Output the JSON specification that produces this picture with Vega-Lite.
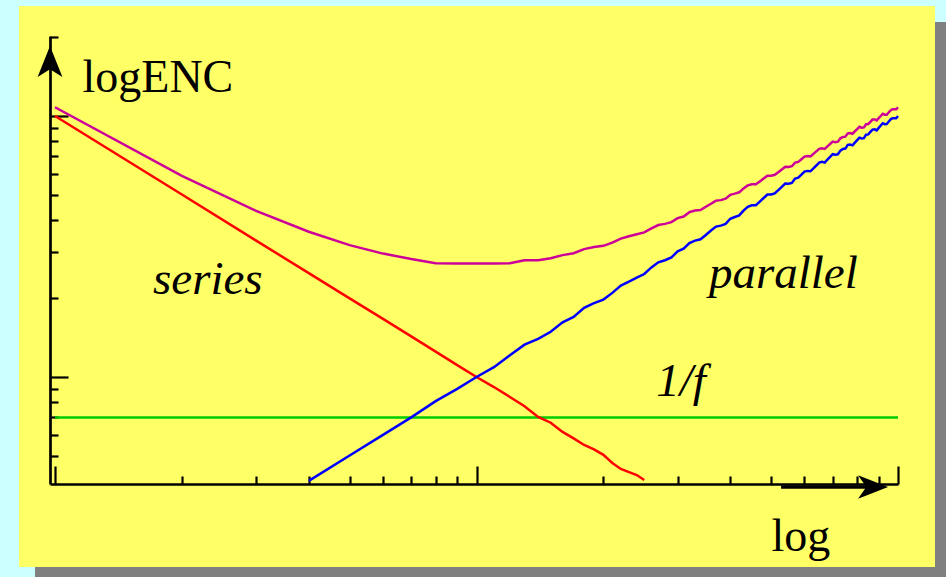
{
  "$schema": "https://vega.github.io/schema/vega-lite/v6.json",
  "width": 916,
  "height": 561,
  "autosize": {"type": "none"},
  "padding": {"left": 19, "top": 6, "right": 11, "bottom": 10},
  "background": "#ccffff",
  "config": {
    "view": {"fill": "#ffff66", "stroke": null},
    "axis": {"grid": false, "labels": false, "domainColor": "black", "tickColor": "black"}
  },
  "datasets": {
    "flat": [{"f": 1, "enc": 0.7}, {"f": 100, "enc": 0.7}],
    "series": [
      {"f": 1, "enc": 10}, {"f": 2, "enc": 5}, {"f": 3, "enc": 3.33}, {"f": 4, "enc": 2.5},
      {"f": 5, "enc": 2}, {"f": 6, "enc": 1.67}, {"f": 7, "enc": 1.43}, {"f": 8, "enc": 1.25},
      {"f": 9, "enc": 1.11}, {"f": 10, "enc": 1.0}, {"f": 11, "enc": 0.915}, {"f": 12, "enc": 0.838},
      {"f": 13, "enc": 0.772}, {"f": 14, "enc": 0.703}, {"f": 15, "enc": 0.668}, {"f": 16, "enc": 0.616},
      {"f": 17, "enc": 0.582}, {"f": 18, "enc": 0.549}, {"f": 19, "enc": 0.528}, {"f": 20, "enc": 0.503},
      {"f": 21, "enc": 0.468}, {"f": 22, "enc": 0.444}, {"f": 23, "enc": 0.432}, {"f": 24, "enc": 0.421},
      {"f": 25, "enc": 0.403}
    ],
    "parallel": [
      {"f": 4, "enc": 0.4}, {"f": 5, "enc": 0.5}, {"f": 6, "enc": 0.6}, {"f": 7, "enc": 0.7},
      {"f": 8, "enc": 0.808}, {"f": 9, "enc": 0.9}, {"f": 10, "enc": 1.0}, {"f": 11, "enc": 1.09},
      {"f": 12, "enc": 1.21}, {"f": 13, "enc": 1.33}, {"f": 14, "enc": 1.4}, {"f": 15, "enc": 1.49},
      {"f": 16, "enc": 1.62}, {"f": 17, "enc": 1.7}, {"f": 18, "enc": 1.84}, {"f": 19, "enc": 1.92},
      {"f": 20, "enc": 1.98}, {"f": 21, "enc": 2.1}, {"f": 22, "enc": 2.24}, {"f": 23, "enc": 2.32},
      {"f": 24, "enc": 2.4}, {"f": 25, "enc": 2.48}, {"f": 26, "enc": 2.63}, {"f": 27, "enc": 2.75},
      {"f": 28, "enc": 2.8}, {"f": 29, "enc": 2.87}, {"f": 30, "enc": 3.03}, {"f": 31, "enc": 3.1},
      {"f": 32, "enc": 3.26}, {"f": 33, "enc": 3.33}, {"f": 34, "enc": 3.37}, {"f": 35, "enc": 3.5},
      {"f": 36, "enc": 3.64}, {"f": 37, "enc": 3.77}, {"f": 38, "enc": 3.8}, {"f": 39, "enc": 3.86},
      {"f": 40, "enc": 4.04}, {"f": 41, "enc": 4.1}, {"f": 42, "enc": 4.16}, {"f": 43, "enc": 4.34},
      {"f": 44, "enc": 4.49}, {"f": 45, "enc": 4.55}, {"f": 46, "enc": 4.55}, {"f": 47, "enc": 4.7},
      {"f": 48, "enc": 4.85}, {"f": 49, "enc": 5.0}, {"f": 50, "enc": 5.0}, {"f": 51, "enc": 5.05},
      {"f": 52, "enc": 5.2}, {"f": 53, "enc": 5.35}, {"f": 54, "enc": 5.51}, {"f": 55, "enc": 5.5},
      {"f": 56, "enc": 5.54}, {"f": 57, "enc": 5.76}, {"f": 58, "enc": 5.8}, {"f": 59, "enc": 5.96},
      {"f": 60, "enc": 6.12}, {"f": 61, "enc": 6.16}, {"f": 62, "enc": 6.14}, {"f": 63, "enc": 6.3},
      {"f": 64, "enc": 6.46}, {"f": 65, "enc": 6.63}, {"f": 66, "enc": 6.67}, {"f": 67, "enc": 6.63},
      {"f": 68, "enc": 6.8}, {"f": 69, "enc": 6.97}, {"f": 70, "enc": 7.14}, {"f": 71, "enc": 7.1},
      {"f": 72, "enc": 7.13}, {"f": 73, "enc": 7.37}, {"f": 74, "enc": 7.47}, {"f": 75, "enc": 7.5},
      {"f": 76, "enc": 7.75}, {"f": 77, "enc": 7.78}, {"f": 78, "enc": 7.72}, {"f": 79, "enc": 7.9},
      {"f": 80, "enc": 8.08}, {"f": 81, "enc": 8.26}, {"f": 82, "enc": 8.2}, {"f": 83, "enc": 8.22},
      {"f": 84, "enc": 8.48}, {"f": 85, "enc": 8.5}, {"f": 86, "enc": 8.69}, {"f": 87, "enc": 8.87},
      {"f": 88, "enc": 8.89}, {"f": 89, "enc": 8.81}, {"f": 90, "enc": 9.0}, {"f": 91, "enc": 9.19},
      {"f": 92, "enc": 9.38}, {"f": 93, "enc": 9.3}, {"f": 94, "enc": 9.31}, {"f": 95, "enc": 9.5},
      {"f": 96, "enc": 9.7}, {"f": 97, "enc": 9.8}, {"f": 98, "enc": 9.8}, {"f": 99, "enc": 9.8},
      {"f": 100, "enc": 10.0}
    ],
    "total": [
      {"f": 1, "enc": 10.8}, {"f": 2, "enc": 5.9}, {"f": 3, "enc": 4.33}, {"f": 4, "enc": 3.6},
      {"f": 5, "enc": 3.2}, {"f": 6, "enc": 2.97}, {"f": 7, "enc": 2.83}, {"f": 8, "enc": 2.73},
      {"f": 9, "enc": 2.72}, {"f": 10, "enc": 2.72}, {"f": 11, "enc": 2.72}, {"f": 12, "enc": 2.73},
      {"f": 13, "enc": 2.8}, {"f": 14, "enc": 2.8}, {"f": 15, "enc": 2.85}, {"f": 16, "enc": 2.93},
      {"f": 17, "enc": 2.98}, {"f": 18, "enc": 3.09}, {"f": 19, "enc": 3.15}, {"f": 20, "enc": 3.18},
      {"f": 21, "enc": 3.27}, {"f": 22, "enc": 3.39}, {"f": 23, "enc": 3.46}, {"f": 24, "enc": 3.52},
      {"f": 25, "enc": 3.58}, {"f": 26, "enc": 3.71}, {"f": 27, "enc": 3.82}, {"f": 28, "enc": 3.86},
      {"f": 29, "enc": 3.92}, {"f": 30, "enc": 4.06}, {"f": 31, "enc": 4.12}, {"f": 32, "enc": 4.28},
      {"f": 33, "enc": 4.34}, {"f": 34, "enc": 4.36}, {"f": 35, "enc": 4.49}, {"f": 36, "enc": 4.61},
      {"f": 37, "enc": 4.74}, {"f": 38, "enc": 4.76}, {"f": 39, "enc": 4.82}, {"f": 40, "enc": 4.99},
      {"f": 41, "enc": 5.04}, {"f": 42, "enc": 5.1}, {"f": 43, "enc": 5.28}, {"f": 44, "enc": 5.42},
      {"f": 45, "enc": 5.47}, {"f": 46, "enc": 5.47}, {"f": 47, "enc": 5.61}, {"f": 48, "enc": 5.76},
      {"f": 49, "enc": 5.9}, {"f": 50, "enc": 5.9}, {"f": 51, "enc": 5.95}, {"f": 52, "enc": 6.09},
      {"f": 53, "enc": 6.24}, {"f": 54, "enc": 6.39}, {"f": 55, "enc": 6.38}, {"f": 56, "enc": 6.42},
      {"f": 57, "enc": 6.63}, {"f": 58, "enc": 6.67}, {"f": 59, "enc": 6.83}, {"f": 60, "enc": 6.99},
      {"f": 61, "enc": 7.03}, {"f": 62, "enc": 7.0}, {"f": 63, "enc": 7.16}, {"f": 64, "enc": 7.32},
      {"f": 65, "enc": 7.48}, {"f": 66, "enc": 7.52}, {"f": 67, "enc": 7.48}, {"f": 68, "enc": 7.65},
      {"f": 69, "enc": 7.81}, {"f": 70, "enc": 7.98}, {"f": 71, "enc": 7.94}, {"f": 72, "enc": 7.97},
      {"f": 73, "enc": 8.21}, {"f": 74, "enc": 8.31}, {"f": 75, "enc": 8.33}, {"f": 76, "enc": 8.58},
      {"f": 77, "enc": 8.61}, {"f": 78, "enc": 8.55}, {"f": 79, "enc": 8.73}, {"f": 80, "enc": 8.91},
      {"f": 81, "enc": 9.09}, {"f": 82, "enc": 9.02}, {"f": 83, "enc": 9.04}, {"f": 84, "enc": 9.3},
      {"f": 85, "enc": 9.32}, {"f": 86, "enc": 9.5}, {"f": 87, "enc": 9.69}, {"f": 88, "enc": 9.7},
      {"f": 89, "enc": 9.62}, {"f": 90, "enc": 9.81}, {"f": 91, "enc": 10.0}, {"f": 92, "enc": 10.19},
      {"f": 93, "enc": 10.11}, {"f": 94, "enc": 10.11}, {"f": 95, "enc": 10.31}, {"f": 96, "enc": 10.5},
      {"f": 97, "enc": 10.6}, {"f": 98, "enc": 10.6}, {"f": 99, "enc": 10.6}, {"f": 100, "enc": 10.8}
    ],
    "labels": [
      {"label": "series", "f": 1.708, "enc": 2.08},
      {"label": "parallel", "f": 35.6, "enc": 2.2},
      {"label": "1/f", "f": 26.7, "enc": 0.846}
    ],
    "xArrow": [{"f": 87.26, "f2": 52.8, "enc": 0.379}],
    "yArrow": [{"f": 0.973, "enc": 16.18}]
  },
  "layer": [
    {
      "description": "drop shadow, right strip",
      "data": {"values": [{}]},
      "mark": {"type": "rect", "color": "#808080"},
      "encoding": {"x": {"value": 916}, "x2": {"value": 940}, "y": {"value": 16}, "y2": {"value": 580}}
    },
    {
      "description": "drop shadow, bottom strip",
      "data": {"values": [{}]},
      "mark": {"type": "rect", "color": "#808080"},
      "encoding": {"x": {"value": 16}, "x2": {"value": 940}, "y": {"value": 561}, "y2": {"value": 580}}
    },
    {
      "data": {"name": "flat"},
      "mark": {"type": "line", "color": "#00cc00", "strokeWidth": 2.5},
      "encoding": {
        "x": {
          "field": "f", "type": "quantitative",
          "scale": {"type": "log", "domain": [0.973, 100], "range": [31, 879], "nice": false},
          "axis": {
            "orient": "bottom", "offset": -83, "values": [1, 10, 100],
            "tickSize": -18, "tickWidth": 2.2, "domainWidth": 2.7, "labels": false,
            "title": "log", "titleFont": "Liberation Serif", "titleFontSize": 46,
            "titleFontWeight": "normal", "titleColor": "black",
            "titleX": 752, "titleY": 66, "titleAlign": "left", "titleBaseline": "alphabetic", "titleAngle": 0
          }
        },
        "y": {
          "field": "enc", "type": "quantitative",
          "scale": {"type": "log", "domain": [0.389, 20.25], "range": [478, 30], "nice": false},
          "axis": {
            "orient": "left", "offset": -31, "values": [1, 10],
            "tickSize": -18, "tickWidth": 2.2, "domainWidth": 2.7, "labels": false,
            "title": "logENC", "titleFont": "Liberation Serif", "titleFontSize": 46,
            "titleFontWeight": "normal", "titleColor": "black",
            "titleX": 32, "titleY": 85, "titleAlign": "left", "titleBaseline": "alphabetic", "titleAngle": 0
          }
        }
      }
    },
    {
      "data": {"name": "series"},
      "mark": {"type": "line", "color": "#ff0000", "strokeWidth": 2.5},
      "encoding": {
        "x": {"field": "f", "type": "quantitative", "axis": null},
        "y": {"field": "enc", "type": "quantitative", "axis": null}
      }
    },
    {
      "data": {"name": "parallel"},
      "mark": {"type": "line", "color": "#0000ff", "strokeWidth": 2.5},
      "encoding": {
        "x": {"field": "f", "type": "quantitative", "axis": null},
        "y": {"field": "enc", "type": "quantitative", "axis": null}
      }
    },
    {
      "data": {"name": "total"},
      "mark": {"type": "line", "color": "#cc0099", "strokeWidth": 2.5},
      "encoding": {
        "x": {
          "field": "f", "type": "quantitative",
          "axis": {
            "orient": "bottom", "offset": -83,
            "values": [2, 3, 4, 5, 6, 7, 8, 9, 20, 30, 40, 50, 60, 70, 80, 90],
            "tickSize": -8, "tickWidth": 2.2, "domain": false, "labels": false, "title": null
          }
        },
        "y": {
          "field": "enc", "type": "quantitative",
          "axis": {
            "orient": "left", "offset": -31,
            "values": [0.5, 0.6, 0.7, 0.8, 0.9, 2, 3, 4, 5, 6, 7, 8, 9, 20],
            "tickSize": -8, "tickWidth": 2.2, "domain": false, "labels": false, "title": null
          }
        }
      }
    },
    {
      "data": {"name": "labels"},
      "mark": {
        "type": "text", "align": "left", "baseline": "alphabetic",
        "font": "Liberation Serif", "fontSize": 47, "fontStyle": "italic", "color": "black"
      },
      "encoding": {
        "x": {"field": "f", "type": "quantitative", "axis": null},
        "y": {"field": "enc", "type": "quantitative", "axis": null},
        "text": {"field": "label"}
      }
    },
    {
      "description": "x-axis arrow shaft",
      "data": {"name": "xArrow"},
      "mark": {"type": "rule", "color": "black", "strokeWidth": 3.5},
      "encoding": {
        "x": {"field": "f2", "type": "quantitative", "axis": null},
        "x2": {"field": "f"},
        "y": {"field": "enc", "type": "quantitative", "axis": null}
      }
    },
    {
      "description": "x-axis arrowhead",
      "data": {"name": "xArrow"},
      "mark": {"type": "point", "filled": true, "opacity": 1, "color": "black", "size": 900,
               "shape": "M1,0 L-1,-0.78 L-0.45,0 L-1,0.78 Z"},
      "encoding": {
        "x": {"field": "f", "type": "quantitative", "axis": null},
        "y": {"field": "enc", "type": "quantitative", "axis": null}
      }
    },
    {
      "description": "y-axis arrowhead",
      "data": {"name": "yArrow"},
      "mark": {"type": "point", "filled": true, "opacity": 1, "color": "black", "size": 961,
               "shape": "M0,-1 L0.8,1 L0,0.5 L-0.8,1 Z"},
      "encoding": {
        "x": {"field": "f", "type": "quantitative", "axis": null},
        "y": {"field": "enc", "type": "quantitative", "axis": null}
      }
    }
  ],
  "resolve": {"axis": {"x": "independent", "y": "independent"}}
}
